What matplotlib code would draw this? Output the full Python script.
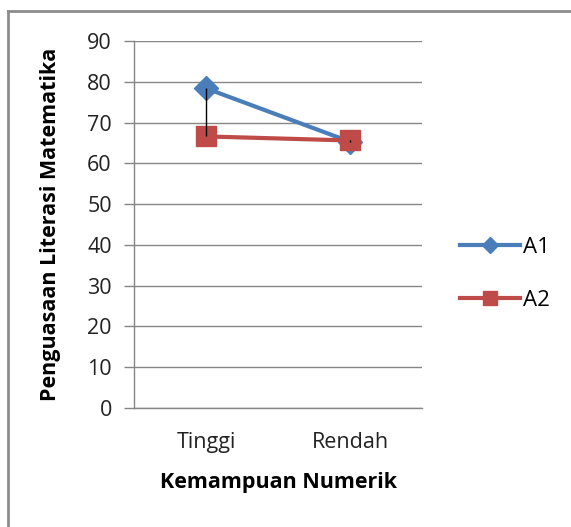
import matplotlib
matplotlib.use('Agg')
import matplotlib.pyplot as plt
from matplotlib.lines import Line2D

# data
categories = ['Tinggi', 'Rendah']
a1 = [78.4, 65.3]
a2 = [66.6, 65.6]
y_ticks = [0, 10, 20, 30, 40, 50, 60, 70, 80, 90]

plt.rcParams['font.family'] = ['Open Sans', 'DejaVu Sans']

fig = plt.figure(figsize=(5.71, 5.27), dpi=100)
ax = fig.add_axes([134 / 571, 1 - 408 / 527, 288 / 571, 367 / 527])

x = range(len(categories))

# high-low lines between the two series
ax.vlines(x, [min(p, q) for p, q in zip(a1, a2)], [max(p, q) for p, q in zip(a1, a2)],
          colors='black', linewidth=1, zorder=5)

ax.plot(x, a1, color='#4A7EBB', linewidth=3, marker='D', markersize=12,
        label='A1', zorder=3)
ax.plot(x, a2, color='#BE4B48', linewidth=3, marker='s', markersize=15,
        label='A2', zorder=4)

ax.set_xlim(-0.5, 1.5)
ax.set_ylim(0, 90)
ax.set_yticks(y_ticks)
ax.set_xticks(list(x))
ax.set_xticklabels(categories)
ax.tick_params(axis='x', length=0, pad=17, labelsize=15.5, labelcolor='#222222')
ax.tick_params(axis='y', length=7, width=1, color='#868686', pad=9,
               labelsize=15.5, labelcolor='#222222')
ax.grid(axis='y', color='#868686', linewidth=1)
ax.set_axisbelow(True)
for side in ['top', 'right']:
    ax.spines[side].set_visible(False)
for side in ['left', 'bottom']:
    ax.spines[side].set_color('#868686')
    ax.spines[side].set_linewidth(1)

ax.set_xlabel('Kemampuan Numerik', fontsize=15.5, fontweight='bold', labelpad=14)
ax.set_ylabel('Penguasaan Literasi Matematika', fontsize=15.5, fontweight='bold', labelpad=19)

handles = [Line2D([], [], color='#4A7EBB', linewidth=3, marker='D', markersize=8),
           Line2D([], [], color='#BE4B48', linewidth=3, marker='s', markersize=10)]
fig.legend(handles, ['A1', 'A2'], loc='center left', bbox_to_anchor=(440 / 571, 1 - 274 / 527),
           frameon=False, fontsize=16, handlelength=2.7, handletextpad=0.15,
           labelspacing=1.45)

# chart border
fig.add_artist(Line2D([8 / 571, 8 / 571], [0, 1 - 11 / 527], color='#8C8C8C', linewidth=2))
fig.add_artist(Line2D([8 / 571, 1], [1 - 11 / 527, 1 - 11 / 527], color='#8C8C8C', linewidth=2))

fig.savefig('out.png', dpi=100)
